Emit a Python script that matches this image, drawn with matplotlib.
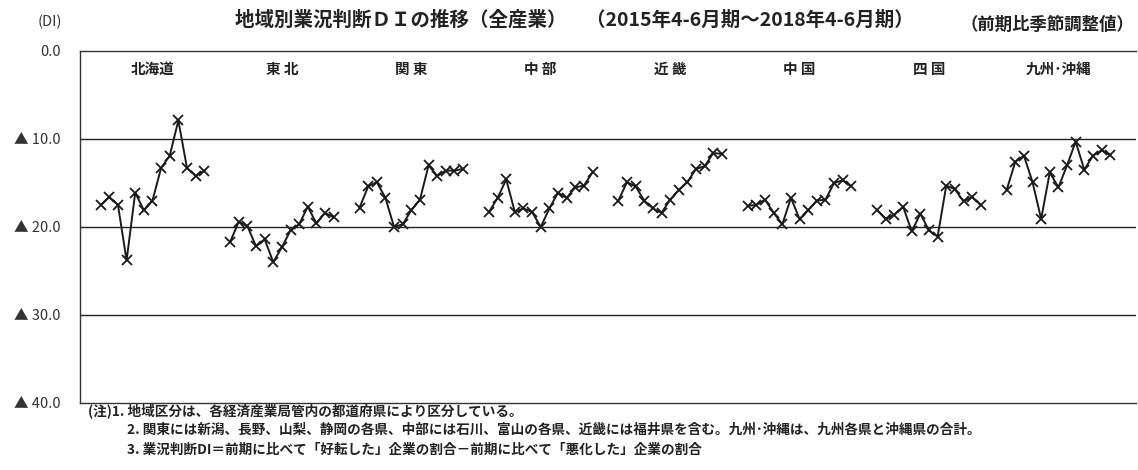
import matplotlib
matplotlib.use('Agg')
import matplotlib.pyplot as plt

plt.rcParams['font.family'] = ['Noto Sans CJK JP', 'DejaVu Sans']

regions = ['北海道', '東 北', '関 東', '中 部', '近 畿', '中 国', '四 国', '九州･沖縄']

# 2015年4-6月期 ~ 2018年4-6月期 (13 quarters), DI values shown as positive depth (▲ = negative)
hokkaido = [17.5, 16.6, 17.5, 23.8, 16.1, 18.1, 17.0, 13.3, 11.9, 7.9, 13.3, 14.2, 13.6]
tohoku = [21.7, 19.4, 19.9, 22.2, 21.4, 24.0, 22.3, 20.4, 19.7, 17.7, 19.6, 18.4, 18.9]
kanto = [17.8, 15.4, 14.9, 16.7, 20.0, 19.7, 18.1, 16.9, 13.0, 14.2, 13.6, 13.6, 13.4]
chubu = [18.3, 16.7, 14.6, 18.3, 17.9, 18.3, 20.0, 17.9, 16.1, 16.7, 15.5, 15.3, 13.8]
kinki = [17.0, 14.9, 15.4, 17.0, 17.9, 18.4, 16.9, 15.8, 14.9, 13.4, 13.1, 11.6, 11.7]
chugoku = [17.6, 17.5, 16.9, 18.4, 19.7, 16.7, 19.1, 18.1, 17.0, 16.9, 15.0, 14.7, 15.4]
shikoku = [18.1, 19.1, 18.6, 17.7, 20.5, 18.5, 20.4, 21.1, 15.3, 15.7, 17.1, 16.6, 17.5]
kyushu = [15.8, 12.6, 11.9, 14.9, 19.1, 13.8, 15.5, 13.0, 10.3, 13.5, 11.9, 11.3, 11.8]

series = [hokkaido, tohoku, kanto, chubu, kinki, chugoku, shikoku, kyushu]
yticks = [0, 10, 20, 30, 40]
ylabels = ['0.0', '▲ 10.0', '▲ 20.0', '▲ 30.0', '▲ 40.0']

fig = plt.figure(figsize=(11.38, 4.70), dpi=100)
ax = fig.add_axes([0.0703, 0.1426, 0.928, 0.749])

slot = 15
for k, vals in enumerate(series):
    xs = [slot * k + i for i in range(len(vals))]
    ax.plot(xs, vals, color='#1a1a1a', lw=1.4, marker='x', ms=6.5, mew=1.3)
    ax.text(slot * k + 6, 2.0, regions[k], ha='center', va='center',
            fontsize=10.5, fontweight='bold', color='#222')

ax.set_xlim(-2.4, 120)
ax.set_ylim(40, 0)
ax.set_yticks(yticks)
ax.set_yticklabels(ylabels, fontsize=10.5, color='#333')
ax.tick_params(axis='y', length=0, pad=14)
ax.set_xticks([])
for y in [10, 20, 30]:
    ax.axhline(y, color='#222', lw=1.0)
ax.spines['right'].set_visible(False)
for s in ['top', 'left', 'bottom']:
    ax.spines[s].set_color('#333')
    ax.spines[s].set_linewidth(1.0)

fig.text(0.044, 0.953, '(DI)', fontsize=10.5, ha='center', va='center', color='#333')
fig.text(0.505, 0.958, '地域別業況判断ＤＩの推移（全産業）　（2015年4-6月期～2018年4-6月期）',
         fontsize=14, fontweight='bold', ha='center', va='center', color='#222')
fig.text(0.92, 0.947, '（前期比季節調整値）', fontsize=12.5, fontweight='bold',
         ha='center', va='center', color='#222')

notes = [
    (0.077, 0.127, '(注)1. 地域区分は、各経済産業局管内の都道府県により区分している。'),
    (0.112, 0.085, '2. 関東には新潟、長野、山梨、静岡の各県、中部には石川、富山の各県、近畿には福井県を含む。九州･沖縄は、九州各県と沖縄県の合計。'),
    (0.112, 0.043, '3. 業況判断DI＝前期に比べて「好転した」企業の割合－前期に比べて「悪化した」企業の割合'),
]
for x, y, t in notes:
    fig.text(x, y, t, fontsize=9.8, fontweight='bold', ha='left', va='center', color='#222')

fig.savefig('out.png', dpi=100)
